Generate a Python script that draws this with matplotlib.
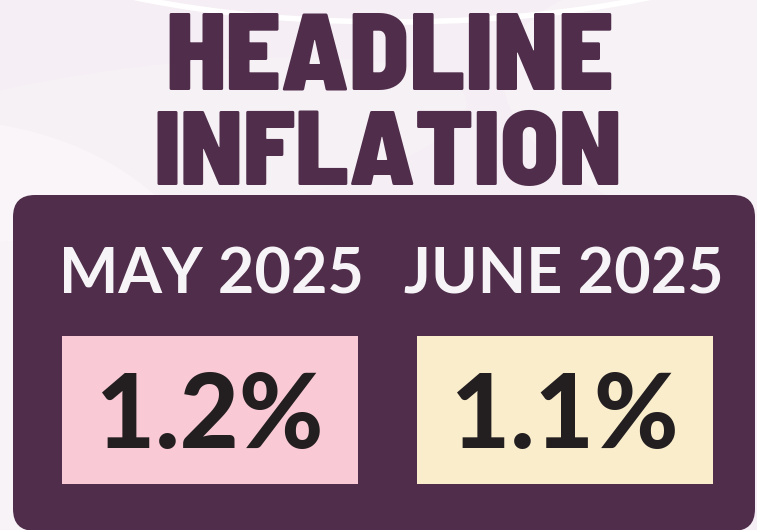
import matplotlib
matplotlib.use("Agg")
import matplotlib.pyplot as plt
from matplotlib import font_manager as fm
from matplotlib.textpath import TextPath
from matplotlib.patches import FancyBboxPatch, Rectangle, Arc, Ellipse

# ---- data ----
title_lines = ["HEADLINE", "INFLATION"]
periods = ["MAY 2025", "JUNE 2025"]
rates = [1.2, 1.1]
box_colors = ["#f9cad6", "#f9edcc"]

W, H, DPI = 757, 530, 100
BG = "#f5eef4"
PURPLE = "#4f2d4b"
INK = "#231f20"


def pick(cands, weight):
    for name in cands:
        try:
            fm.findfont(fm.FontProperties(family=name), fallback_to_default=False)
            return fm.FontProperties(family=name, weight=weight)
        except Exception:
            continue
    return fm.FontProperties(family="DejaVu Sans", weight=weight)


head_fp = pick(["Barlow Semi Condensed", "Barlow", "Montserrat"], 900)
label_fp = pick(["Lato"], 700)
num_fp = pick(["Lato"], 900)


def fit_text(ax, s, fp, xc, baseline, cap_h, color, width=None):
    ext = TextPath((0, 0), s, size=100, prop=fp).get_extents()
    size_px = 100.0 * cap_h / ext.y1
    if width is not None:
        size_w = 100.0 * width / ext.width
        size_px = (size_px * size_w) ** 0.5
    p = fp.copy()
    p.set_size(size_px * 72.0 / DPI)
    ax.text(xc, baseline, s, fontproperties=p, color=color,
            ha="center", va="baseline", zorder=5)


fig = plt.figure(figsize=(W / DPI, H / DPI), dpi=DPI)
fig.patch.set_facecolor(BG)
ax = fig.add_axes([0, 0, 1, 1])
ax.set_xlim(0, W)
ax.set_ylim(H, 0)
ax.axis("off")
ax.set_facecolor(BG)

# faint background waves
ax.add_patch(Ellipse((-60, 330), 560, 420, facecolor="white", alpha=0.35, lw=0, zorder=0))
ax.add_patch(Ellipse((120, 150), 700, 160, angle=-8, facecolor="white", alpha=0.18, lw=0, zorder=0))
ax.add_patch(Ellipse((760, 110), 520, 260, angle=10, facecolor="white", alpha=0.25, lw=0, zorder=0))
# white arc at the top
ax.add_patch(Arc((392, -128), 940, 300, theta1=0, theta2=360, color="white", lw=4.0, zorder=1))

# headline
fit_text(ax, title_lines[0], head_fp, 389.5, 89, 74, PURPLE, width=459)
fit_text(ax, title_lines[1], head_fp, 388, 185, 72, PURPLE, width=482)

# dark panel
ax.add_patch(FancyBboxPatch((13, 195), 742, 336,
                            boxstyle="round,pad=0,rounding_size=22",
                            facecolor=PURPLE, edgecolor="none", zorder=2))

label_x = [211.5, 564]
box_x0 = [62, 417]
for i, (per, val) in enumerate(zip(periods, rates)):
    fit_text(ax, per, label_fp, label_x[i], 293, 46, "#f7f4f7")
    ax.add_patch(Rectangle((box_x0[i], 336), 296, 148, facecolor=box_colors[i],
                           edgecolor="none", zorder=3))
    fit_text(ax, f"{val:.1f}%", num_fp, box_x0[i] + 148, 448, 75, INK)

fig.savefig("out.png", dpi=DPI, facecolor=BG)
